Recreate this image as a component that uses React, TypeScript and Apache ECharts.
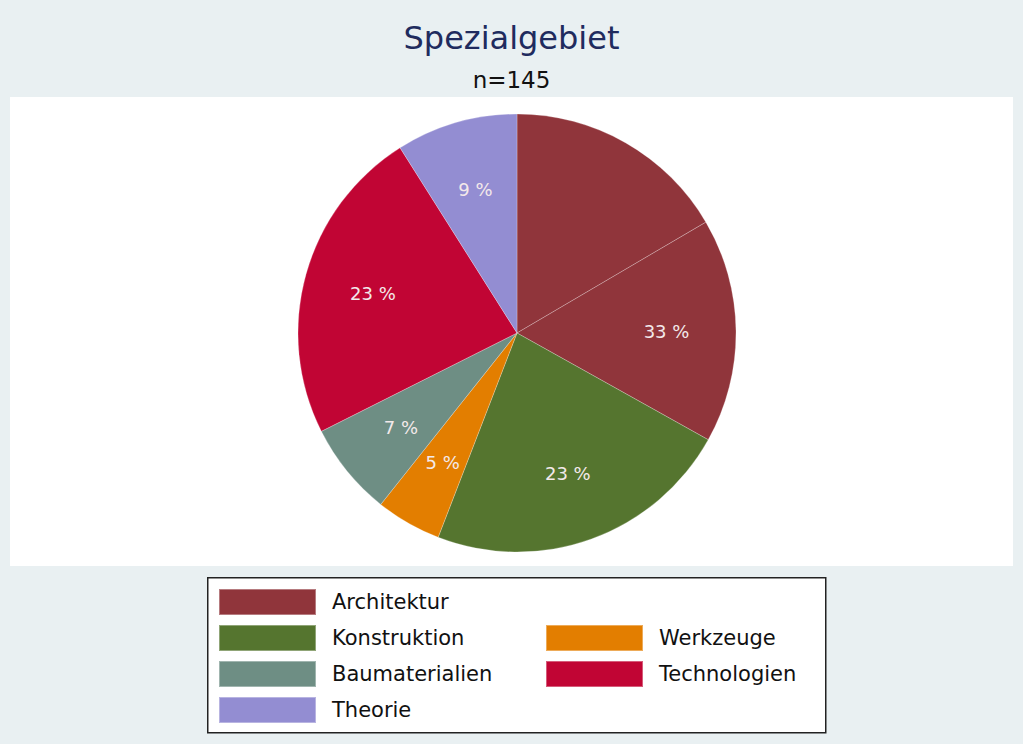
import React, { useEffect, useRef } from "react";
import * as echarts from "echarts";

// Architektur is drawn as two same-coloured slices in the reference (a faint split line), labelled once.
const sliceNames = ["Architektur", "Architektur", "Konstruktion", "Werkzeuge", "Baumaterialien", "Technologien", "Theorie"];
const sliceCounts = [24, 24, 33, 7, 10, 34, 13];
const sliceLabelled = [false, true, true, true, true, true, true];
const categories = ["Architektur", "Konstruktion", "Werkzeuge", "Baumaterialien", "Technologien", "Theorie"];
const colors = ["#90353b", "#55752f", "#e37e00", "#6e8e84", "#c10534", "#938dd2"];
const legendCol1 = ["Architektur", "Konstruktion", "Baumaterialien", "Theorie"];
const legendCol2 = ["Werkzeuge", "Technologien"];
const titleText = "Spezialgebiet";
const subtitleText = "n=145";

const FONT = "'DejaVu Sans', 'Liberation Sans', Arial, sans-serif";

export default function App() {
  const ref = useRef<HTMLDivElement>(null);
  useEffect(() => {
    document.body.style.margin = "0";
    const chart = echarts.init(ref.current!, null, { renderer: "svg" });
    const colorOf = (name: string) => colors[categories.indexOf(name)];
    const total = sliceCounts.reduce((a, b) => a + b, 0);
    const categoryTotal = (name: string) =>
      sliceCounts.reduce((s, v, i) => (sliceNames[i] === name ? s + v : s), 0);
    const data = sliceNames.map((name, i) => ({ name, value: sliceCounts[i], itemStyle: { color: colorOf(name) } }));
    const legendCommon = {
      orient: "vertical" as const,
      itemWidth: 97,
      itemHeight: 26,
      itemGap: 8,
      padding: 0,
      icon: "rect",
      selectedMode: false,
      textStyle: { fontSize: 21, lineHeight: 26, color: "#111", fontFamily: FONT, padding: [0, 0, 0, 11] },
    };
    chart.setOption({
      animation: false,
      backgroundColor: "#e9f0f2",
      title: [
        { text: titleText, left: "center", top: 17, textStyle: { fontSize: 32, fontWeight: "normal", color: "#202b5e", fontFamily: FONT } },
        { text: subtitleText, left: "center", top: 63, textStyle: { fontSize: 23, fontWeight: "normal", color: "#111", fontFamily: FONT } },
      ],
      graphic: [
        { type: "rect", left: 10, top: 97, shape: { width: 1003, height: 469 }, style: { fill: "#ffffff" }, z: -10 },
        { type: "rect", left: 207, top: 577, shape: { width: 618, height: 155 }, style: { fill: "#ffffff", stroke: "#222", lineWidth: 1.5 }, z: -10 },
      ],
      legend: [
        { ...legendCommon, data: legendCol1, left: 218, top: 588 },
        { ...legendCommon, data: legendCol2, left: 545, top: 624 },
      ],
      series: [
        {
          type: "pie",
          center: [517, 333],
          radius: [0, 219],
          startAngle: 90,
          clockwise: true,
          data,
          label: { show: false },
          labelLine: { show: false },
          itemStyle: { borderColor: "rgba(255,255,255,0.35)", borderWidth: 0.7 },
          emphasis: { disabled: true },
        },
        {
          type: "pie",
          center: [517, 333],
          radius: [74, 219],
          startAngle: 90,
          clockwise: true,
          silent: true,
          data: sliceNames.map((name, i) => ({ name, value: sliceCounts[i] })),
          itemStyle: { color: "rgba(0,0,0,0)" },
          label: {
            show: true,
            position: "inside",
            fontSize: 18,
            color: "#f3e9ea",
            fontFamily: FONT,
            formatter: (p: any) =>
              sliceLabelled[p.dataIndex] ? Math.round((categoryTotal(p.name) / total) * 100) + " %" : "",
          },
          labelLine: { show: false },
          emphasis: { disabled: true },
        },
      ],
    });
    return () => chart.dispose();
  }, []);
  return <div ref={ref} style={{ width: 1023, height: 744 }} />;
}
